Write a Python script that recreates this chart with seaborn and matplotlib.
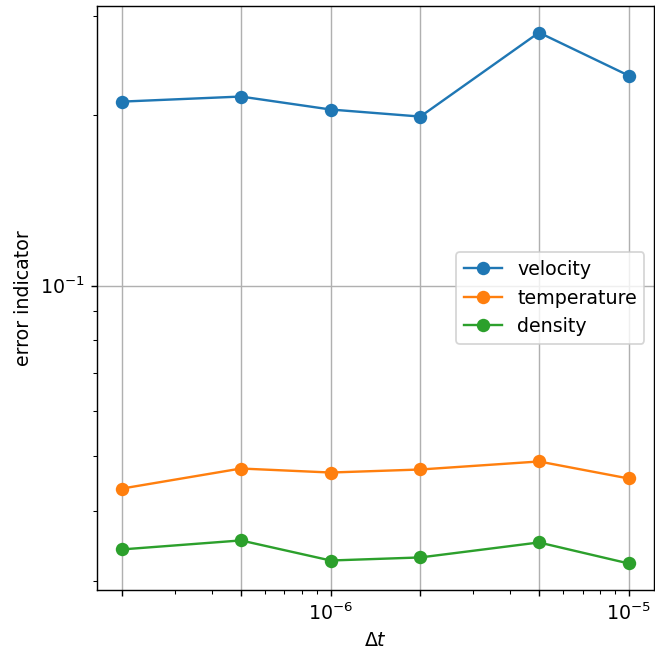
import numpy as np
import pandas as pd
import matplotlib
matplotlib.use("Agg")
import matplotlib.pyplot as plt
import seaborn as sns

dt = [2e-7, 5e-7, 1e-6, 2e-6, 5e-6, 1e-5]
velocity = [0.2114, 0.2158, 0.2047, 0.1989, 0.2800, 0.2350]
temperature = [0.04378, 0.04749, 0.04672, 0.04730, 0.04887, 0.04560]
density = [0.03417, 0.03544, 0.03266, 0.03307, 0.03515, 0.03227]
series_names = ["velocity", "temperature", "density"]

rows = []
for name, vals in zip(series_names, [velocity, temperature, density]):
    for x, y in zip(dt, vals):
        rows.append({"dt": x, "err": y, "quantity": name})
df = pd.DataFrame(rows)

plt.rcParams["font.size"] = 10.8

fig = plt.figure(figsize=(655 / 127, 650 / 127), dpi=127)
ax = fig.add_axes([97 / 655, 60 / 650, 557 / 655, 584 / 650])

sns.lineplot(data=df, x="dt", y="err", hue="quantity", hue_order=series_names,
             palette="tab10", marker="o", markersize=7.6, markeredgewidth=0,
             linewidth=1.35, ax=ax)
ax.set_xscale("log")
ax.set_yscale("log")

labels = []
for v in dt:
    e = np.log10(v)
    if abs(e - round(e)) < 1e-9:
        labels.append(r"$10^{%d}$" % int(round(e)))
    else:
        labels.append("")
ax.set_xticks(dt)
ax.set_xticklabels(labels)
ax.grid(True, which="major")

ax.set_xlabel(r"$\Delta t$")
ax.set_ylabel("error indicator")

leg = ax.get_legend()
handles = leg.legend_handles
texts = [t.get_text() for t in leg.texts]
ax.legend(handles, texts, loc="center right")

fig.savefig("out.png", dpi=127)
